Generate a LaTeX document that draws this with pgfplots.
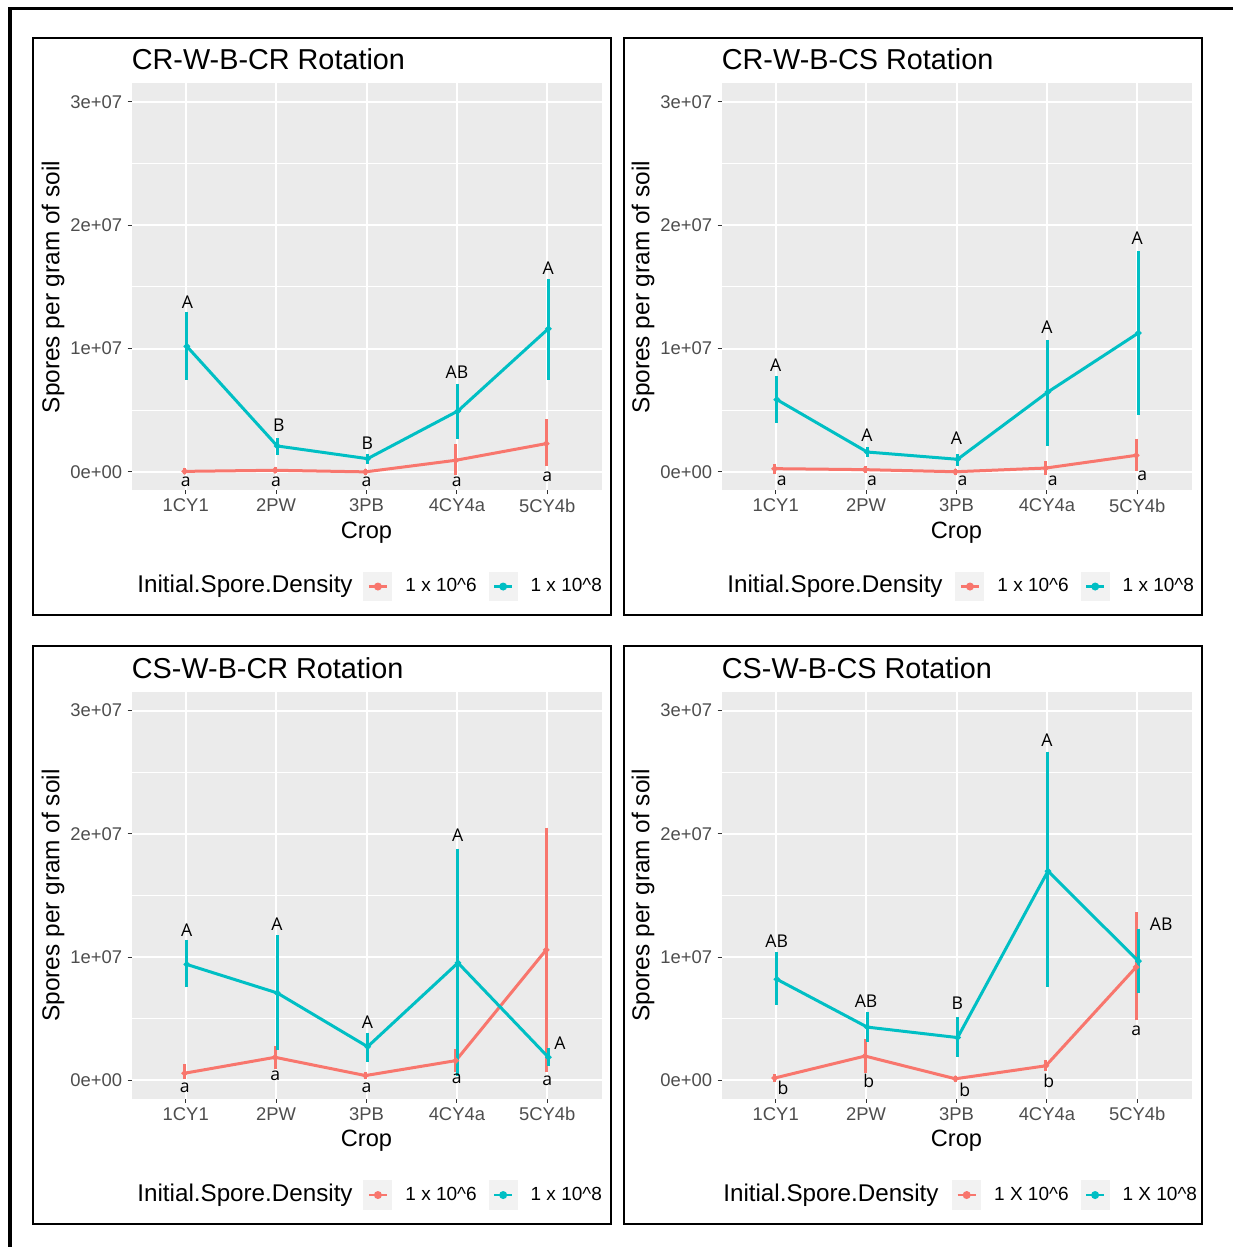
\documentclass[border=0pt]{standalone}
\usepackage{fontspec}
\setmainfont{Liberation Sans}
\newfontfamily\annfont{Open Sans}
\usepackage{pgfplots}
\pgfplotsset{compat=1.18}
\usepackage{pgfplotstable}

\definecolor{cR}{HTML}{F8766D}
\definecolor{cC}{HTML}{00BFC4}
\definecolor{panelbg}{HTML}{EBEBEB}
\definecolor{keybg}{HTML}{F2F2F2}
\definecolor{gray30}{HTML}{4D4D4D}
\definecolor{gray20}{HTML}{333333}

% columns: x (dodged category position), mean, error up, error down
\pgfplotstableread{
x y ep em
0.988 0.005e7 0.003e7 0.003e7
1.988 0.014e7 0.004e7 0.004e7
2.988 0.001e7 0.002e7 0.002e7
3.988 0.095e7 0.108e7 0.100e7
4.988 0.230e7 0.175e7 0.162e7
}\pAr
\pgfplotstableread{
x y ep em
1.012 1.019e7 0.259e7 0.249e7
2.012 0.211e7 0.040e7 0.049e7
3.012 0.108e7 0.019e7 0.019e7
4.012 0.495e7 0.200e7 0.206e7
5.012 1.162e7 0.378e7 0.392e7
}\pAc
\pgfplotstableread{
x y ep em
0.988 0.027e7 0.019e7 0.019e7
1.988 0.019e7 0.005e7 0.005e7
2.988 0.002e7 0.003e7 0.003e7
3.988 0.032e7 0.036e7 0.032e7
4.988 0.135e7 0.115e7 0.103e7
}\pBr
\pgfplotstableread{
x y ep em
1.012 0.587e7 0.170e7 0.168e7
2.012 0.162e7 0.019e7 0.019e7
3.012 0.103e7 0.019e7 0.035e7
4.012 0.649e7 0.400e7 0.419e7
5.012 1.127e7 0.643e7 0.641e7
}\pBc
\pgfplotstableread{
x y ep em
0.988 0.059e7 0.054e7 0.027e7
1.988 0.188e7 0.072e7 0.075e7
2.988 0.040e7 0.010e7 0.010e7
3.988 0.161e7 0.073e7 0.070e7
4.988 1.059e7 0.971e7 0.968e7
}\pCr
\pgfplotstableread{
x y ep em
1.012 0.941e7 0.175e7 0.164e7
2.012 0.710e7 0.446e7 0.444e7
3.012 0.274e7 0.094e7 0.102e7
4.012 0.954e7 0.906e7 0.895e7
5.012 0.188e7 0.054e7 0.048e7
}\pCc
\pgfplotstableread{
x y ep em
0.988 0.020e7 0.010e7 0.010e7
1.988 0.198e7 0.119e7 0.113e7
2.988 0.014e7 0.005e7 0.005e7
3.988 0.119e7 0.028e7 0.019e7
4.988 0.920e7 0.424e7 0.411e7
}\pDr
\pgfplotstableread{
x y ep em
1.012 0.821e7 0.198e7 0.187e7
2.012 0.433e7 0.105e7 0.099e7
3.012 0.348e7 0.142e7 0.136e7
4.012 1.698e7 0.948e7 0.920e7
5.012 0.968e7 0.243e7 0.241e7
}\pDc

\tikzset{ann/.style={font=\annfont\fontsize{8.8}{10}\selectfont, inner sep=0pt, anchor=center}}
\newcommand{\lab}[3]{\node[ann] at (axis cs:#1,#2) {#3};}
\newcommand{\legtitle}[1]{\node[anchor=base west, inner sep=0pt, font=\fontsize{12.1}{14}\selectfont] at (axis description cs:#1,-0.2511) {Initial.Spore.Density};}

\pgfplotsset{
  every axis title shift=0pt,
  every error bar/.append style={line width=1.5pt},
  panel/.style={
    scale only axis, width=235pt, height=203.5pt, anchor=south west, clip=false,
    xmin=0.4, xmax=5.6, ymin=-0.15e7, ymax=3.15e7,
    xtick={1,2,3,4,5}, xticklabels={1CY1,2PW,3PB,4CY4a,5CY4b},
    ytick={0,1e7,2e7,3e7}, yticklabels={0e+00,1e+07,2e+07,3e+07},
    scaled y ticks=false,
    minor ytick={0.5e7,1.5e7,2.5e7},
    grid=both, major grid style={white, line width=1pt}, minor grid style={white, line width=0.5pt},
    axis background/.style={fill=panelbg},
    axis line style={draw=none},
    tick pos=left, tick align=outside, major tick length=2pt, minor tick length=0pt,
    every tick/.style={gray20, line width=0.5pt},
    tick label style={font=\fontsize{9.2}{11}\selectfont, text=gray30},
    yticklabel style={inner sep=0pt, xshift=-2.5pt},
    xticklabel style={inner sep=0pt, yshift=-2pt},
    xlabel=Crop, ylabel={Spores per gram of soil},
    xlabel style={at={(axis description cs:0.5,-0.1175)}, anchor=base, inner sep=0pt, font=\fontsize{11.8}{14}\selectfont},
    ylabel style={at={(axis description cs:-0.167,0.5)}, anchor=center, inner sep=0pt, font=\fontsize{12.2}{14}\selectfont},
    title style={at={(axis description cs:0,1.0344)}, anchor=base west, yshift=0pt, inner sep=0pt, font=\fontsize{14.4}{17}\selectfont},
    legend columns=2,
    legend style={anchor=west, draw=none, fill=none, inner sep=0pt,
      nodes={inner sep=0pt, font=\fontsize{9.5}{11}\selectfont},
      cells={anchor=west},
      /tikz/every odd column/.append style={column sep=6.5pt},
      /tikz/every even column/.append style={column sep=6pt}},
    legend image code/.code={
      \fill[keybg] (0pt,-6.6pt) rectangle (13pt,6.6pt);
      \draw[##1, line width=1.4pt] (2pt,0pt) -- (11pt,0pt);
      \fill[##1] (6.5pt,0pt) circle (1.2pt);
    },
  },
  ser/.style={color=#1, line width=1.5pt, mark=*, mark size=0.7pt,
    error bars/y dir=both, error bars/y explicit,
    error bars/error bar style={line width=1.5pt, solid},
    error bars/error mark options={line width=1.5pt, mark size=1.3pt}},
}

\begin{document}
\begin{tikzpicture}
\path[use as bounding box] (0,0) rectangle (616.5pt,623.5pt);
\draw[line width=1.8pt] (5pt,0pt) -- (5pt,619.25pt) -- (616.5pt,619.25pt);
\draw[line width=1pt] (16.5pt,316pt) rectangle (305.5pt,604.5pt);
\draw[line width=1pt] (312pt,316pt) rectangle (601pt,604.5pt);
\draw[line width=1pt] (16.5pt,11.5pt) rectangle (305.5pt,300.5pt);
\draw[line width=1pt] (312pt,11.5pt) rectangle (601pt,300.5pt);

\begin{axis}[panel, at={(65.75pt,378.25pt)}, title={CR-W-B-CR Rotation},
  legend style={at={(0.4926,-0.236)}}]
\addplot[ser=cR] table[x=x, y=y, y error plus=ep, y error minus=em] {\pAr};
\addlegendentry{1 x 10\textasciicircum 6}
\addplot[ser=cC] table[x=x, y=y, y error plus=ep, y error minus=em] {\pAc};
\addlegendentry{1 x 10\textasciicircum 8}
\lab{1.02}{1.378e7}{A}\lab{2.03}{0.381e7}{B}\lab{3.01}{0.235e7}{B}\lab{4}{0.81e7}{AB}\lab{5.01}{1.653e7}{A}
\lab{1}{-0.08e7}{a}\lab{2}{-0.08e7}{a}\lab{3}{-0.08e7}{a}\lab{4}{-0.08e7}{a}\lab{5}{-0.04e7}{a}
\legtitle{0.0117}
\end{axis}

\begin{axis}[panel, at={(360.75pt,378.25pt)}, title={CR-W-B-CS Rotation},
  legend style={at={(0.497,-0.236)}}]
\addplot[ser=cR] table[x=x, y=y, y error plus=ep, y error minus=em] {\pBr};
\addlegendentry{1 x 10\textasciicircum 6}
\addplot[ser=cC] table[x=x, y=y, y error plus=ep, y error minus=em] {\pBc};
\addlegendentry{1 x 10\textasciicircum 8}
\lab{1}{0.867e7}{A}\lab{2.01}{0.30e7}{A}\lab{3}{0.275e7}{A}\lab{4}{1.175e7}{A}\lab{5}{1.895e7}{A}
\lab{1.066}{-0.073e7}{a}\lab{2.066}{-0.073e7}{a}\lab{3.066}{-0.073e7}{a}\lab{4.066}{-0.073e7}{a}\lab{5.055}{-0.032e7}{a}
\legtitle{0.0117}
\end{axis}

\begin{axis}[panel, at={(65.75pt,74pt)}, title={CS-W-B-CR Rotation},
  legend style={at={(0.4926,-0.236)}}]
\addplot[ser=cR] table[x=x, y=y, y error plus=ep, y error minus=em] {\pCr};
\addlegendentry{1 x 10\textasciicircum 6}
\addplot[ser=cC] table[x=x, y=y, y error plus=ep, y error minus=em] {\pCc};
\addlegendentry{1 x 10\textasciicircum 8}
\lab{1.01}{1.222e7}{A}\lab{2.01}{1.27e7}{A}\lab{3.01}{0.47e7}{A}\lab{4.01}{1.985e7}{A}\lab{5.14}{0.30e7}{A}
\lab{0.99}{-0.06e7}{a}\lab{1.99}{0.04e7}{a}\lab{3}{-0.06e7}{a}\lab{4}{0.016e7}{a}\lab{5}{0}{a}
\legtitle{0.0117}
\end{axis}

\begin{axis}[panel, at={(360.75pt,74pt)}, title={CS-W-B-CS Rotation},
  legend style={at={(0.490,-0.236)}}]
\addplot[ser=cR] table[x=x, y=y, y error plus=ep, y error minus=em] {\pDr};
\addlegendentry{1 X 10\textasciicircum 6}
\addplot[ser=cC] table[x=x, y=y, y error plus=ep, y error minus=em] {\pDc};
\addlegendentry{1 X 10\textasciicircum 8}
\lab{1.01}{1.132e7}{AB}\lab{2}{0.647e7}{AB}\lab{3.01}{0.63e7}{B}\lab{4}{2.757e7}{A}\lab{5.265}{1.27e7}{AB}
\lab{1.08}{-0.057e7}{b}\lab{2.03}{0}{b}\lab{3.09}{-0.073e7}{b}\lab{4.02}{0}{b}\lab{4.99}{0.405e7}{a}
\legtitle{0.003}
\end{axis}
\end{tikzpicture}
\end{document}
